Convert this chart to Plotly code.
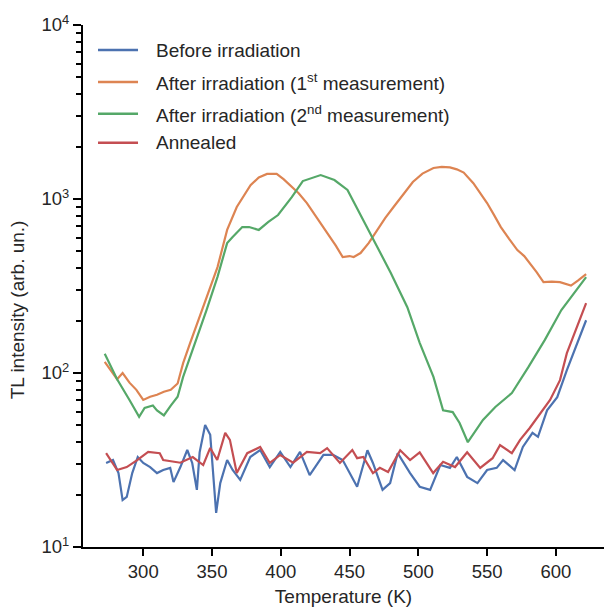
import plotly.graph_objects as go

# ---------------- data ----------------
t_before = [273, 278, 282, 285, 288, 292, 296, 300, 305, 310, 314.5, 319.6, 322, 327, 332, 335.6, 339, 341,
            345, 348.7, 353, 356, 361, 365, 370.5, 377.8, 385, 392, 399.6, 407, 414, 421, 431, 438, 445,
            455.5, 463, 467, 474, 479.5, 485, 494, 501, 508.6, 516, 523, 528, 535.5, 543, 550, 557, 561.6,
            570, 576, 583, 587, 593.6, 601, 608, 622]
i_before = [30.4, 31.6, 26.6, 18.6, 19.4, 26.6, 32.9, 30.4, 28.8, 26.6, 27.7, 28.5, 23.6, 28.8, 36.1, 30.4, 21.3, 35,
            50.3, 44.1, 15.7, 23.3, 31.6, 27.7, 24.3, 32.9, 36.1, 28.8, 35.2, 28.8, 35.2, 25.9, 33.8, 33.8, 31.6,
            22.2, 36, 30.4, 21.3, 23.3, 34.6, 26.6, 22.2, 21.3, 29.6, 28.5, 32.9, 25.3, 23.3, 27.7, 28.5, 31.6,
            27.7, 37.6, 45.3, 43, 61, 72.6, 104, 201]

t_first = [272, 276, 281, 285, 290, 295, 300, 305, 310, 315, 320, 325, 329, 334, 341, 346, 354, 361, 368, 378,
           384, 390, 397, 402, 407, 413, 419, 426, 434, 440, 445, 450, 453, 458, 464, 470, 476, 482, 489, 496,
           503, 511, 517, 523, 528, 533, 540, 545, 550, 555, 560, 566, 572, 577, 581, 586, 591, 597, 603, 607,
           611, 616, 622]
i_first = [116, 105, 92, 100, 88, 80, 70, 73, 75, 78, 80, 87, 114, 148, 210, 273, 406, 664, 900, 1202,
           1330, 1393, 1393, 1300, 1202, 1080, 948, 790, 638, 540, 464, 470, 464, 489, 560, 664, 780, 900, 1070, 1253,
           1400, 1508, 1530, 1520, 1480, 1418, 1233, 1090, 948, 810, 690, 590, 509, 470, 428, 380, 333, 335, 333, 325,
           318, 340, 370]

t_second = [272, 281, 290, 297, 301, 307, 310, 315, 320, 325, 329, 336, 346, 354, 361, 365, 372, 377, 384, 391,
            398, 408, 416, 429, 439, 448.5, 456, 468, 480, 492, 501, 511, 518, 525, 530, 536, 547, 556, 568,
            580, 592, 604, 622]
i_second = [129, 92, 70, 56, 63, 65, 61, 57, 65, 73, 95, 136, 230, 357, 558, 605, 690, 690, 664, 738,
            809, 1026, 1268, 1373, 1285, 1127, 870, 581, 376, 239, 149, 95, 61, 59.6, 51.6, 40, 53.7, 63.8, 76.7,
            108, 155, 230, 356]

t_annealed = [273, 278, 281, 288, 292.7, 295.6, 303.6, 312, 314.5, 322, 327, 336, 343.6, 348.7, 353.8, 359.6, 363,
              368, 375.6, 385, 392, 399.6, 409, 419, 428.6, 433.7, 443, 452, 455.5, 460, 467, 472, 478, 486.8,
              494, 501, 510.8, 518, 526.7, 535.5, 545, 554, 559.4, 568, 574, 581, 588.5, 595.8, 603, 608, 622]
i_annealed = [34.6, 30.4, 27.7, 28.8, 30.4, 31.6, 35.2, 34.6, 31.6, 30.9, 30.5, 32.9, 29.6, 37.1, 31.6, 45.3, 41.3,
              26.6, 34.6, 37.6, 30.4, 33.8, 30.5, 35.2, 34.6, 37, 30.4, 36.1, 32.4, 32.9, 26.6, 28.5, 27, 36,
              31.6, 35, 26.6, 30.9, 28.8, 35, 28.5, 32.4, 38.5, 34.6, 41.3, 48.3, 58.7, 70, 91, 130, 252]

series_names = ["Before irradiation",
                "After irradiation (1<sup>st</sup> measurement)",
                "After irradiation (2<sup>nd</sup> measurement)",
                "Annealed"]
series_colors = ["#4C72B0", "#DD8452", "#55A868", "#C44E52"]

x_ticks = [300, 350, 400, 450, 500, 550, 600]
y_ticks = [10, 100, 1000, 10000]
y_ticktext = ["10<sup>1</sup>", "10<sup>2</sup>", "10<sup>3</sup>", "10<sup>4</sup>"]
y_minor = [m * 10 ** d for d in (1, 2, 3) for m in range(2, 10)]

# ---------------- figure ----------------
FONT = "Liberation Sans, Arial, sans-serif"
TXT = "#262626"
fig = go.Figure()
data = [(t_before, i_before), (t_first, i_first), (t_second, i_second), (t_annealed, i_annealed)]
for (tx, iy), name, col in zip(data, series_names, series_colors):
    fig.add_trace(go.Scatter(x=tx, y=iy, mode="lines", name=name, showlegend=False,
                             line=dict(color=col, width=2.2)))

# legend drawn as line samples + labels in paper coordinates
legend_rows = [0.952, 0.891, 0.830, 0.7745]
for name, col, yy in zip(series_names, series_colors, legend_rows):
    fig.add_shape(type="line", xref="paper", yref="paper", x0=0.0288, x1=0.1056, y0=yy, y1=yy,
                  line=dict(color=col, width=2.5))
    fig.add_annotation(text=name, xref="paper", yref="paper", x=0.1363, y=yy,
                       xanchor="left", yanchor="middle", showarrow=False,
                       font=dict(size=19, family=FONT, color=TXT))

fig.update_layout(
    width=604, height=608,
    margin=dict(l=83, r=0, t=25, b=61),
    paper_bgcolor="white", plot_bgcolor="white",
    font=dict(family=FONT, size=18, color=TXT),
    showlegend=False,
)
fig.update_xaxes(
    range=[256.2, 635], tickvals=x_ticks, showgrid=False, zeroline=False,
    showline=True, linecolor="black", linewidth=2,
    ticks="outside", ticklen=7, tickwidth=2, tickcolor="black",
    tickfont=dict(size=18.5, family=FONT, color=TXT),
    title=dict(text="Temperature (K)", font=dict(size=19, family=FONT, color=TXT), standoff=8),
)
fig.update_yaxes(
    type="log", range=[1, 4], tickvals=y_ticks, ticktext=y_ticktext,
    showgrid=False, zeroline=False,
    showline=True, linecolor="black", linewidth=2,
    ticks="outside", ticklen=8, tickwidth=2, tickcolor="black",
    tickfont=dict(size=18.5, family=FONT, color=TXT),
    minor=dict(tickvals=y_minor, ticks="outside", ticklen=5, tickwidth=1.5, tickcolor="black", showgrid=False),
)
fig.add_annotation(text="TL intensity (arb. un.)", textangle=-90,
                   xref="paper", yref="paper", x=-0.125, y=0.455,
                   xanchor="center", yanchor="middle", showarrow=False,
                   font=dict(size=19, family=FONT, color=TXT))

fig.write_html("out.html", config={"displayModeBar": False},
               post_script="document.body.style.margin='0px';document.body.style.overflow='hidden';")
